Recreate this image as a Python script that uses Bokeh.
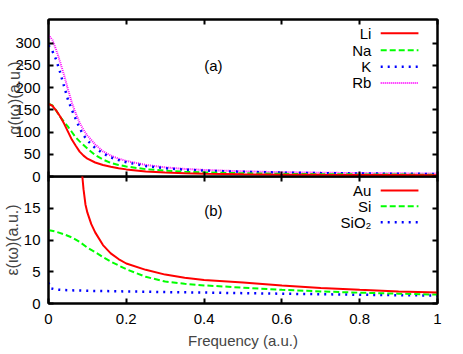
from bokeh.plotting import figure
from bokeh.layouts import column
from bokeh.models import FixedTicker, LinearAxis, Range1d
from bokeh.core.properties import value
from bokeh.embed import file_html
from bokeh.resources import INLINE

# ---------------- data ----------------
freq_a = [0, 0.01, 0.02, 0.03, 0.04, 0.05, 0.06, 0.07, 0.08, 0.09, 0.10,
          0.12, 0.14, 0.16, 0.18, 0.20, 0.25, 0.30, 0.35, 0.40, 0.50,
          0.60, 0.70, 0.80, 0.90, 1.00]
alpha_li = [163, 159, 148, 135, 119, 101, 83, 69, 56, 47, 40,
            31.5, 26, 21.8, 18.5, 16, 11.5, 9, 7.3, 6.2, 4.9,
            4.2, 3.7, 3.3, 3.1, 2.9]
alpha_na = [164, 160, 148, 134, 123, 112, 100, 88, 79, 71, 63,
            48, 38, 30.5, 26, 22.5, 16.5, 13, 10.8, 9.3, 7.2,
            6.0, 5.2, 4.7, 4.3, 4.0]
alpha_k = [295, 282, 262, 234, 203, 173, 150, 129, 109, 93, 81,
           64, 52, 43, 37, 32, 23.5, 18.5, 15.5, 13.3, 10.5,
           8.8, 7.6, 6.8, 6.2, 5.7]
alpha_rb = [318, 307, 284, 257, 228, 196, 166, 142, 121, 105, 92,
            72, 56.5, 47, 40, 35, 26, 20.5, 17, 14.8, 11.6,
            9.7, 8.5, 7.7, 7.1, 6.6]

freq_au = [0.085, 0.087, 0.09, 0.095, 0.10, 0.11, 0.12, 0.14, 0.16, 0.18,
           0.20, 0.25, 0.30, 0.35, 0.40, 0.50, 0.60, 0.70, 0.80, 0.90, 1.00]
eps_au = [21.5, 20, 18, 15.6, 14.3, 12.5, 11.2, 9.2, 7.9, 7.0,
          6.3, 5.3, 4.55, 4.05, 3.7, 3.3, 2.85, 2.45, 2.15, 1.9, 1.75]

freq_b = [0, 0.005, 0.02, 0.04, 0.06, 0.08, 0.10, 0.12, 0.14, 0.16, 0.18,
          0.20, 0.25, 0.30, 0.35, 0.40, 0.50, 0.60, 0.70, 0.80, 0.90, 1.00]
eps_si = [11.5, 11.5, 11.3, 10.9, 10.4, 9.7, 8.8, 8.1, 7.3, 6.6, 6.0,
          5.4, 4.2, 3.45, 3.1, 2.85, 2.5, 2.15, 1.9, 1.7, 1.55, 1.4]
eps_sio2 = [3.3, 2.4, 2.2, 2.12, 2.07, 2.04, 2.0, 1.98, 1.96, 1.94, 1.92,
            1.9, 1.86, 1.8, 1.76, 1.72, 1.63, 1.54, 1.46, 1.38, 1.31, 1.25]

x_ticks = [0, 0.2, 0.4, 0.6, 0.8, 1]
x_tick_labels = ["0", "0.2", "0.4", "0.6", "0.8", "1"]
alpha_ticks = [0, 50, 100, 150, 200, 250, 300]
eps_ticks = [0, 5, 10, 15]
names_a = ["Li", "Na", "K", "Rb"]
names_b = ["Au", "Si", "SiO\u2082"]

# ---------------- styling ----------------
FONT = "Liberation Sans"
RED, GREEN, BLUE, MAGENTA = "#ff0000", "#00ff00", "#0000ff", "#ff00ff"
DASH_NA = "6 3"
DASH_K = "2 5"
DASH_RB = "1 1"
W = 460


def make_fig(height, y_end, top, bottom):
    p = figure(width=W, height=height, x_range=Range1d(0, 1),
               y_range=Range1d(0, y_end), output_backend="svg",
               toolbar_location=None, min_border_left=46,
               min_border_right=23, min_border_top=top,
               min_border_bottom=bottom)
    p.grid.visible = False
    p.outline_line_color = "black"
    p.outline_line_width = 2
    p.outline_line_alpha = 1
    return p


def style_axis(ax, ticks, labels=None, show=True, standoff=8):
    ax.ticker = FixedTicker(ticks=ticks)
    ax.major_tick_in = 5
    ax.major_tick_out = 0
    ax.minor_tick_line_color = None
    ax.axis_line_width = 2
    ax.axis_line_color = "black"
    ax.major_tick_line_width = 2
    ax.major_tick_line_color = "black"
    if show:
        ax.major_label_text_font = FONT
        ax.major_label_text_font_size = "15px"
        ax.major_label_text_color = "black"
        ax.major_label_standoff = standoff
        if labels is not None:
            ax.major_label_overrides = {t: l for t, l in zip(ticks, labels)}
    else:
        ax.major_label_text_font_size = "1px"
        ax.major_label_overrides = {t: "" for t in ticks}
        ax.major_label_standoff = 0


def add_legend(p, names, ys, colors, dashes, widths):
    for name, yy, c, d, w in zip(names, ys, colors, dashes, widths):
        p.text(x=[0.83], y=[yy], text=[name], text_align="right",
               text_baseline="middle", text_font=value(FONT),
               text_font_size="15px", text_color="black")
        p.line(x=[0.854, 0.951], y=[yy, yy], line_color=c, line_dash=d,
               line_width=w)


# ---------------- panel (a) ----------------
pa = make_fig(184, 353, 19, 8)
style_axis(pa.xaxis[0], x_ticks, show=False)
pa.xaxis[0].major_tick_out = 5          # mirrored ticks pointing into panel (b)
style_axis(pa.yaxis[0], alpha_ticks, [str(t) for t in alpha_ticks])
pa.yaxis[0].axis_label = "\u03b1(\u03b9\u03c9)(a.u.)"
pa.yaxis[0].axis_label_text_font = FONT
pa.yaxis[0].axis_label_text_font_size = "16px"
pa.yaxis[0].axis_label_text_font_style = "normal"
pa.yaxis[0].axis_label_standoff = -11
top_ax = LinearAxis()
style_axis(top_ax, x_ticks, show=False)
pa.add_layout(top_ax, "above")
right_a = LinearAxis()
style_axis(right_a, alpha_ticks, show=False)
pa.add_layout(right_a, "right")

pa.line(freq_a, alpha_rb, line_color=MAGENTA, line_width=2, line_dash=DASH_RB)
pa.line(freq_a, alpha_k, line_color=BLUE, line_width=2.5, line_dash=DASH_K)
pa.line(freq_a, alpha_na, line_color=GREEN, line_width=2, line_dash=DASH_NA)
pa.line(freq_a, alpha_li, line_color=RED, line_width=2)

add_legend(pa, names_a, [322, 284, 246.5, 210.5],
           [RED, GREEN, BLUE, MAGENTA],
           ["solid", DASH_NA, DASH_K, DASH_RB], [2, 2, 2.5, 2])
pa.text(x=[0.424], y=[250], text=["(a)"], text_align="center",
        text_baseline="middle", text_font=value(FONT),
        text_font_size="15px", text_color="black")

# ---------------- panel (b) ----------------
pb = make_fig(178, 20, 0, 51)
pb.margin = (-8, 0, 0, 0)
pb.border_fill_alpha = 0
pb.background_fill_alpha = 0
style_axis(pb.xaxis[0], x_ticks, x_tick_labels, standoff=10)
pb.xaxis[0].axis_label = "Frequency (a.u.)"
pb.xaxis[0].axis_label_text_font = FONT
pb.xaxis[0].axis_label_text_font_size = "15px"
pb.xaxis[0].axis_label_text_font_style = "normal"
pb.xaxis[0].axis_label_standoff = 5
style_axis(pb.yaxis[0], eps_ticks, [str(t) for t in eps_ticks])
pb.yaxis[0].axis_label = "\u03b5(\u03b9\u03c9)(a.u.)"
pb.yaxis[0].axis_label_text_font = FONT
pb.yaxis[0].axis_label_text_font_size = "16px"
pb.yaxis[0].axis_label_text_font_style = "normal"
pb.yaxis[0].axis_label_standoff = 0
right_b = LinearAxis()
style_axis(right_b, eps_ticks, show=False)
pb.add_layout(right_b, "right")

pb.line(freq_b, eps_sio2, line_color=BLUE, line_width=2.5, line_dash=DASH_K)
pb.line(freq_b, eps_si, line_color=GREEN, line_width=2, line_dash=DASH_NA)
pb.line(freq_au, eps_au, line_color=RED, line_width=2)

add_legend(pb, names_b, [17.8, 15.3, 12.8], [RED, GREEN, BLUE],
           ["solid", DASH_NA, DASH_K], [2, 2, 2.5])
pb.text(x=[0.424], y=[14.7], text=["(b)"], text_align="center",
        text_baseline="middle", text_font=value(FONT),
        text_font_size="15px", text_color="black")

layout = column(pa, pb, spacing=0)
open("out.html", "w").write(file_html(layout, INLINE))
